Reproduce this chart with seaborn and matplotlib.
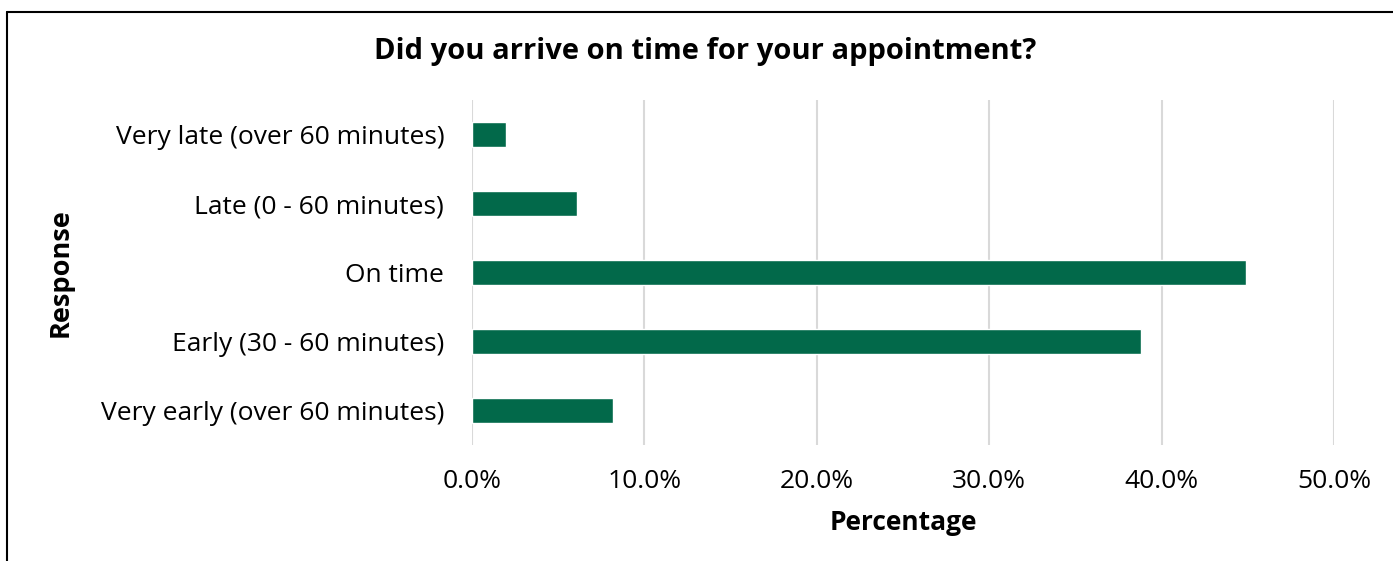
import matplotlib
matplotlib.use("Agg")
import matplotlib.pyplot as plt
import seaborn as sns
import pandas as pd
from matplotlib.ticker import PercentFormatter
from matplotlib.lines import Line2D

# data
responses = [
    "Very late (over 60 minutes)",
    "Late (0 - 60 minutes)",
    "On time",
    "Early (30 - 60 minutes)",
    "Very early (over 60 minutes)",
]
percentages = [2.0, 6.1, 44.9, 38.8, 8.2]

df = pd.DataFrame({"Response": responses, "Percentage": percentages})

sns.set_style("white")
plt.rcParams["font.family"] = ["Open Sans", "DejaVu Sans"]
plt.rcParams["text.color"] = "black"
plt.rcParams["axes.labelcolor"] = "black"

fig = plt.figure(figsize=(13.93, 5.61), dpi=100)
ax = fig.add_axes([472 / 1393, 1 - 445 / 561, 862 / 1393, 345 / 561])

sns.barplot(data=df, y="Response", x="Percentage", order=responses,
            color="#02694a", saturation=1, width=0.36, ax=ax, zorder=3)

ax.set_xlim(0, 50)
ax.set_xticks([0, 10, 20, 30, 40, 50])
ax.xaxis.set_major_formatter(PercentFormatter(decimals=1))
ax.grid(axis="x", color="#d9d9d9", linewidth=1.5, zorder=0)
ax.grid(axis="y", visible=False)
for s in ax.spines.values():
    s.set_visible(False)
ax.tick_params(axis="both", length=0, labelsize=19, colors="black")
ax.tick_params(axis="y", pad=20)
ax.tick_params(axis="x", pad=17)

ax.set_xlabel("Percentage", fontsize=19, fontweight="bold", labelpad=11)
ax.set_ylabel("Response", fontsize=19.5, fontweight="bold")
ax.yaxis.set_label_coords(-398 / 862, 0.5)

fig.text(705 / 1393, 1 - 52 / 561, "Did you arrive on time for your appointment?",
         ha="center", va="center", fontsize=21, fontweight="bold")

# outer border (only top and left visible in the crop)
fig.add_artist(Line2D([7 / 1393, 7 / 1393], [0, 1 - 12 / 561], color="black",
                      linewidth=1.5, transform=fig.transFigure))
fig.add_artist(Line2D([7 / 1393, 1], [1 - 12 / 561, 1 - 12 / 561], color="black",
                      linewidth=1.5, transform=fig.transFigure))

fig.savefig("out.png", dpi=100)
